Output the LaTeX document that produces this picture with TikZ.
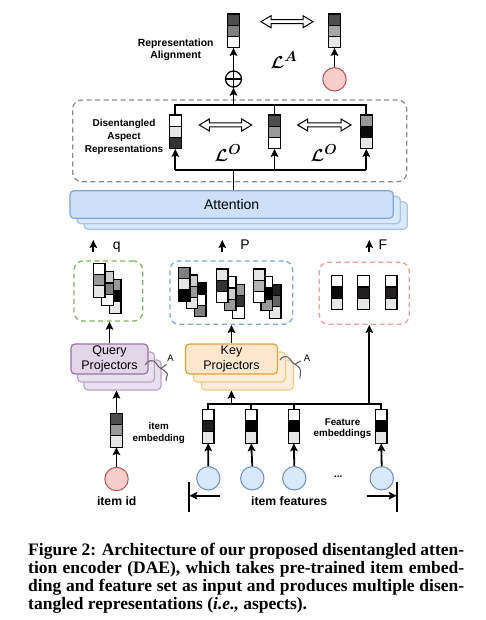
\documentclass[tikz,border=0pt]{standalone}
\usepackage{amsmath}
\usepackage{fontspec}
\setmainfont{Liberation Sans}
\newfontfamily\capfont{Liberation Serif}
\usetikzlibrary{arrows.meta}
\definecolor{ga}{HTML}{E6E6E6}
\definecolor{gb}{HTML}{CCCCCC}
\definecolor{gc}{HTML}{B3B3B3}
\definecolor{gd}{HTML}{999999}
\definecolor{ge}{HTML}{808080}
\definecolor{gf}{HTML}{666666}
\definecolor{gg}{HTML}{4D4D4D}
\definecolor{gh}{HTML}{333333}
\definecolor{gi}{HTML}{231F20}
\definecolor{gj}{HTML}{0A0A0A}
\definecolor{gk}{HTML}{A6A6A6}
\definecolor{pinkf}{HTML}{F8CECC}
\definecolor{pinkd}{HTML}{B85450}
\definecolor{bluef}{HTML}{DAE8FC}
\definecolor{blued}{HTML}{6C8EBF}
\definecolor{attf}{HTML}{CCE0F7}
\definecolor{attd}{HTML}{7EA6E0}
\definecolor{attbf}{HTML}{D9E8FA}
\definecolor{attbd}{HTML}{A9C4EB}
\definecolor{qf}{HTML}{E1D5E7}
\definecolor{qd}{HTML}{9673A6}
\definecolor{qbf}{HTML}{EAE1EF}
\definecolor{qbd}{HTML}{BBA3C9}
\definecolor{kf}{HTML}{FFE6CC}
\definecolor{kd}{HTML}{E0A23A}
\definecolor{kbf}{HTML}{FDEEDC}
\definecolor{kbd}{HTML}{F2C987}
\definecolor{greend}{HTML}{82B366}
\definecolor{lblue}{HTML}{7EA6E0}
\definecolor{lred}{HTML}{F19C99}
\definecolor{dgray}{HTML}{8C8C8C}
\tikzset{
  ln/.style={line width=1.8pt},
  arr/.style={line width=1.8pt, -{Stealth[length=8pt,width=7.5pt,inset=1.5pt]}},
  cell/.style={draw, line width=1.1pt, minimum width=11.5pt, minimum height=11.3pt, inner sep=0pt, outer sep=0pt},
  dbl/.style={draw, line width=1pt, fill=white},
  dbox/.style={draw, dash pattern=on 5pt off 3.5pt, line width=1.3pt, rounded corners=9pt, inner sep=0pt},
  circ/.style={circle, draw, line width=1pt, minimum size=23.4pt, inner sep=0pt},
  bl/.style={font=\fontsize{10}{12.5}\selectfont\bfseries, align=center},
  sq/.style={draw=gf, line width=1.1pt},
  stackbox/.style={draw, line width=1.2pt, rounded corners=4pt, inner sep=0pt},
}
\newcommand\vecbox[6]{%
  \node[cell, fill=#4, anchor=north] (#1) at (#2,#3) {};
  \node[cell, fill=#5, anchor=north] (#1m) at (#1.south) {};
  \node[cell, fill=#6, anchor=north] (#1b) at (#1m.south) {};
}
\newcommand\dblarr[3]{%
  \draw[dbl] (#1,#2) -- ++(10,-6) -- ++(0,4) -- ++(#3-20,0) -- ++(0,-4) -- ++(10,6)
    -- ++(-10,6) -- ++(0,-4) -- ++(-#3+20,0) -- ++(0,4) -- cycle;
}
\begin{document}
\begin{tikzpicture}[x=1pt,y=-1pt]
\useasboundingbox (0,0) rectangle (485,620);
\fill[white] (0,0) rectangle (485,620);

% ---------- top: representation alignment
\vecbox{tl}{233.5}{14}{gg}{ge}{white}
\vecbox{tr}{334.5}{14}{gg}{gk}{ga}
\node[circle, draw, line width=1.3pt, minimum size=16pt, inner sep=0pt] (plus) at (233.5,79) {};
\draw[line width=1.3pt] (plus.north) -- (plus.south) (plus.west) -- (plus.east);
\node[circ, fill=pinkf, draw=pinkd] (pk) at (334.5,79.3) {};
\draw[arr] (plus.north) -- (tlb.south);
\draw[arr] (pk.north) -- (trb.south);
\dblarr{261}{21.7}{52}
\node[font=\fontsize{19}{20}\selectfont] (LA) at (284,60) {$\boldsymbol{\mathcal{L}}^{\boldsymbol{A}}$};
\node[bl, font=\fontsize{10.4}{12.3}\selectfont\bfseries] (ra) at (175.7,50) {Representation\\Alignment};

% ---------- disentangled aspect representations
\node[dbox, draw=dgray, minimum width=334pt, minimum height=81.7pt] (dbx) at (239.7,140.85) {};
\node[bl, font=\fontsize{10}{12.8}\selectfont\bfseries] (dar) at (124,137) {Disentangled\\Aspect\\Representations};
\vecbox{aa}{175.3}{115}{white}{ga}{gh}
\vecbox{ab}{274.5}{115}{gg}{gd}{white}
\vecbox{ac}{366.3}{115}{gd}{gj}{ga}
\coordinate (atop) at (233.5,105);
\coordinate (abot) at (233.5,170);
\draw[ln] (aa.north) -- (aa.north |- atop) -- (ac.north |- atop) -- (ac.north);
\draw[ln] (ab.north) -- (ab.north |- atop);
\draw[arr] (atop) -- (plus.south);
\draw[ln] (aab.south |- abot) -- (acb.south |- abot);
\draw[arr] (aab.south |- abot) -- (aab.south);
\draw[arr] (abb.south |- abot) -- (abb.south);
\draw[arr] (acb.south |- abot) -- (acb.south);
\dblarr{199.3}{125}{52.4}
\dblarr{297.7}{125}{53.3}
\node[font=\fontsize{19}{20}\selectfont] (LO1) at (228,153) {$\boldsymbol{\mathcal{L}}^{\boldsymbol{O}}$};
\node[font=\fontsize{19}{20}\selectfont] (LO2) at (324,153) {$\boldsymbol{\mathcal{L}}^{\boldsymbol{O}}$};

% ---------- attention
\node[stackbox, fill=attbf, draw=attbd, minimum width=323.3pt, minimum height=27.6pt] (att3) at (245.65,215.5) {};
\node[stackbox, fill=attbf, draw=attbd, minimum width=323.3pt, minimum height=27.6pt] (att2) at (238.65,210) {};
\node[stackbox, fill=attf, draw=attd, minimum width=323.3pt, minimum height=27.6pt, font=\fontsize{14}{16}\selectfont] (att) at (231.65,204.5) {Attention};
\draw[ln] (abot |- att.north) -- (abot);

% ---------- q, P, F
\coordinate (q0) at (93.3,252); \coordinate (q1) at (93.3,240);
\coordinate (p0) at (222.3,252); \coordinate (p1) at (222.3,240);
\coordinate (f0) at (369.3,252); \coordinate (f1) at (369.3,240);
\draw[arr] (q0) -- (q1);
\draw[arr] (p0) -- (p1);
\draw[arr] (f0) -- (f1);
\node[font=\fontsize{14}{16}\selectfont, anchor=base] (ql) at (116.7,249.3) {q};
\node[font=\fontsize{14}{16}\selectfont, anchor=base] (pl) at (245,249.3) {P};
\node[font=\fontsize{14}{16}\selectfont, anchor=base] (fl) at (383,249.3) {F};

% ---------- dashed groups
\node[dbox, draw=greend, minimum width=68.7pt, minimum height=60pt] (gbox) at (108.35,291) {};
\node[dbox, draw=lblue, minimum width=122.7pt, minimum height=63.3pt] (bbox) at (231.35,292.65) {};
\node[dbox, draw=lred, minimum width=90pt, minimum height=62pt] (rbox) at (364.3,293.3) {};

% query stack
\vecbox{qc}{115.2}{279.3}{gd}{black}{ga}
\vecbox{qb}{107.3}{271.7}{gb}{ge}{white}
\vecbox{qa}{99.2}{263.3}{white}{gd}{ga}
% key stack groups
\vecbox{kac}{200.2}{282.7}{black}{white}{ge}
\vecbox{kab}{191.8}{275}{gb}{gd}{ga}
\vecbox{kaa}{184.2}{267.3}{ge}{ga}{black}
\vecbox{kbc}{238.5}{284.3}{gd}{gh}{white}
\vecbox{kbb}{230.2}{276.7}{white}{gb}{gd}
\vecbox{kba}{222.2}{269}{ga}{gh}{white}
\vecbox{kcc}{275.2}{284.3}{gi}{gf}{ga}
\vecbox{kcb}{266.7}{276.7}{white}{black}{gd}
\vecbox{kca}{259.2}{269}{ga}{gc}{white}
% feature
\vecbox{ra}{337}{275.7}{white}{gj}{ga}
\vecbox{rb}{363.3}{275.7}{white}{gi}{ga}
\vecbox{rc}{391.2}{275.7}{white}{gi}{ga}

% ---------- projectors
\node[stackbox, fill=qbf, draw=qbd, minimum width=77pt, minimum height=30pt] (qp3) at (122.5,375) {};
\node[stackbox, fill=qbf, draw=qbd, minimum width=77pt, minimum height=30pt] (qp2) at (116,367) {};
\node[stackbox, fill=qf, draw=qd, minimum width=77pt, minimum height=30pt, align=center, font=\fontsize{12.5}{15.5}\selectfont] (qp) at (109.5,359) {Query\\Projectors};
\node[stackbox, fill=kbf, draw=kbd, minimum width=92pt, minimum height=30pt] (kp3) at (247.5,375) {};
\node[stackbox, fill=kbf, draw=kbd, minimum width=92pt, minimum height=30pt] (kp2) at (239.5,367) {};
\node[stackbox, fill=kf, draw=kd, minimum width=92pt, minimum height=30pt, align=center, font=\fontsize{12.5}{15.5}\selectfont] (kp) at (231.5,359) {Key\\Projectors};
\draw[sq] (145,365) .. controls (148,360) and (153,359) .. (156,363) .. controls (158,366) and (159,368) .. (161,368.5);
\draw[sq] (161,368.5) -- (166.7,364.3);
\draw[sq] (161,368.5) .. controls (166,371) and (168,374) .. (167.3,375) .. controls (166.5,377) and (166,379) .. (166,381);
\node[font=\fontsize{9.5}{11}\selectfont] (qA) at (170.5,358.3) {A};
\draw[sq] (280,360) .. controls (282,356) and (287,355) .. (290,359) .. controls (292,362) and (293,364) .. (295,364.3);
\draw[sq] (295,364.3) -- (300.7,361);
\draw[sq] (295,364.3) .. controls (299,367) and (301,369) .. (300.7,371) .. controls (300.5,374) and (300,376) .. (300,378.3);
\node[font=\fontsize{9.5}{11}\selectfont] (kA) at (307,358.3) {A};
\draw[arr] (qp.north) -- (qp.north |- gbox.south);
\draw[arr] (kp.north) -- (kp.north |- bbox.south);

% ---------- inputs
\vecbox{em}{116.5}{413.3}{gg}{gd}{ga}
\node[circ, fill=pinkf, draw=pinkd] (iid) at (116.5,479) {};
\draw[arr] (iid.north) -- (emb.south);
\draw[arr] (em.north) -- (em.north |- qp3.south);
\node[bl, font=\fontsize{9.8}{12}\selectfont\bfseries] (iel) at (158.8,432.7) {item\\embedding};

\vecbox{fa}{208.2}{409.3}{white}{gi}{ga}
\vecbox{fb}{251.2}{409.3}{white}{black}{ga}
\vecbox{fc}{293.8}{409.3}{white}{black}{ga}
\vecbox{fd}{381.2}{409.3}{white}{black}{ga}
\coordinate (kbar) at (231.5,404);
\coordinate (fbar) at (369.3,404);
\draw[ln] (fa.north) -- (fa.north |- kbar) -- (fd.north |- kbar) -- (fd.north);
\draw[ln] (fb.north) -- (fb.north |- kbar);
\draw[ln] (fc.north) -- (fc.north |- kbar);
\draw[arr] (kbar) -- (kbar |- kp3.south);
\draw[arr] (fbar) -- (fbar |- rbox.south);
\node[bl, font=\fontsize{9.8}{11.6}\selectfont\bfseries] (fel) at (342.5,428.5) {Feature\\embeddings};

\node[circ, fill=bluef, draw=blued] (ca) at (208.3,478.3) {};
\node[circ, fill=bluef, draw=blued] (cb) at (252.3,478.3) {};
\node[circ, fill=bluef, draw=blued] (cc) at (294.3,478.3) {};
\node[circ, fill=bluef, draw=blued] (cd) at (381.7,478.3) {};
\draw[arr] (ca.north) -- (fab.south);
\draw[arr] (cb.north) -- (fbb.south);
\draw[arr] (cc.north) -- (fcb.south);
\draw[arr] (cd.north) -- (fdb.south);
\node[font=\fontsize{10}{12}\selectfont\bfseries] (dots) at (338.3,477) {...};

\node[font=\fontsize{12.2}{14}\selectfont\bfseries] (idl) at (116.7,501.5) {item id};
\node[font=\fontsize{12.2}{14}\selectfont\bfseries] (ifl) at (289.2,501.5) {item features};
\coordinate (bl1) at (189.3,481.7); \coordinate (bl2) at (189.3,512);
\coordinate (br1) at (396.7,481.7); \coordinate (br2) at (396.7,512);
\coordinate (la) at (220,495.7); \coordinate (ra2) at (366.7,495.7);
\draw[ln] (bl1) -- (bl2);
\draw[ln] (br1) -- (br2);
\draw[arr] (la) -- (la -| bl1);
\draw[arr] (ra2) -- (ra2 -| br1);

% ---------- caption
\begin{scope}[every node/.style={anchor=base west, inner sep=0pt, font=\capfont\bfseries\fontsize{17.5}{18}\selectfont}]
\node (cap1) at (28,555) {\makebox[436pt][s]{Figure 2: Architecture of our proposed disentangled atten-}};
\node (cap2) at (28,573) {\makebox[436pt][s]{tion encoder (DAE), which takes pre-trained item embed-}};
\node (cap3) at (28,591) {\makebox[436pt][s]{ding and feature set as input and produces multiple disen-}};
\node (cap4) at (28,609) {tangled representations (\textit{i.e.,} aspects).};
\end{scope}
\end{tikzpicture}
\end{document}
